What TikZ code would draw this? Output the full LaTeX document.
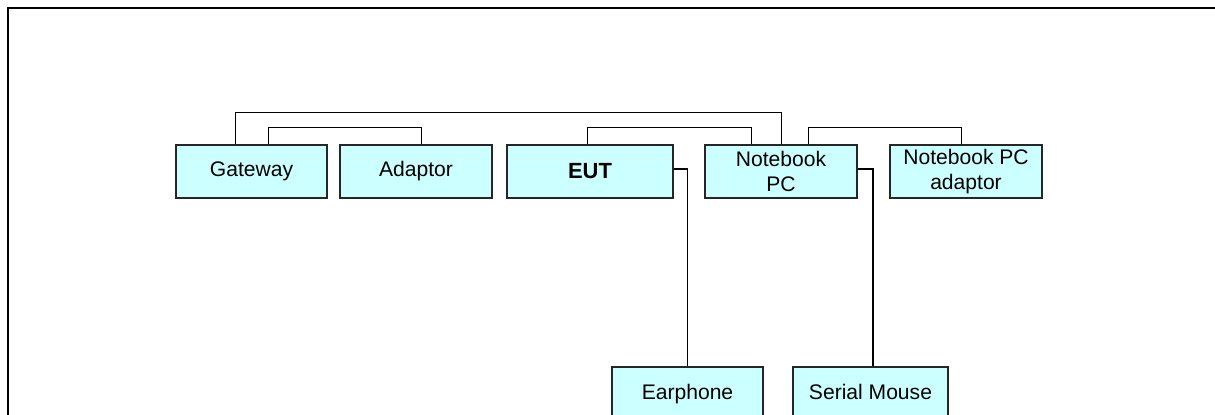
\documentclass[tikz,border=0pt]{standalone}
\usepackage{fontspec}
\setmainfont{Liberation Sans}
\usepackage{tikz}
\usetikzlibrary{positioning, calc}

\definecolor{boxcyan}{HTML}{CCFFFF}

\begin{document}
\begin{tikzpicture}[x=0.02cm, y=-0.02cm,
    unit/.style={draw=black!85, fill=boxcyan, line width=.7pt, shape=rectangle,
      minimum width=3.02cm, minimum height=1.06cm, align=center, inner sep=1pt,
      font=\fontsize{12}{14}\selectfont},
    lowunit/.style={unit, text height=1.6ex, text depth=.4ex},
    wire/.style={draw, line width=.9pt}]
  \clip (0,0) rectangle (1215,415);
  % page frame, cut at the right and bottom
  \draw[line width=1.3pt] (8,470) -- (8,8) -- (1260,8);

  % top row
  \node[unit] (gateway) at (251.5,171.5) {Gateway};
  \node[unit, minimum width=3.04cm] (adaptor) at (416,171.5) {Adaptor};
  \node[unit, minimum width=3.32cm, font=\fontsize{12.5}{14}\selectfont\bfseries] (eut) at (590,171.5) {EUT};
  \node[unit, minimum width=3.04cm] (nbpc) at (781,171.5) {Notebook\\PC};
  \node[unit, minimum width=3.04cm] (nbadapt) at (966,171.5) {Notebook PC\\adaptor};
  % bottom row
  \node[lowunit] (earphone) at (687.5,393.5) {Earphone};
  \node[lowunit, minimum width=3.1cm] (mouse) at (870.5,393.5) {Serial Mouse};

  % connectors
  \path[wire]
    ([xshift=1.2cm]gateway.north west) -- ++(0,0.64cm) -| ([xshift=1.54cm]nbpc.north west)
    ([xshift=1.86cm]gateway.north west) -- ++(0,0.34cm) -| ([xshift=1.64cm]adaptor.north west)
    ([xshift=1.62cm]eut.north west) -- ++(0,0.34cm) -| ([xshift=0.94cm]nbpc.north west)
    ([xshift=2.08cm]nbpc.north west) -- ++(0,0.34cm) -| ([xshift=1.44cm]nbadapt.north west)
    ([yshift=0.05cm]eut.east) -| (earphone.north)
    ([yshift=0.05cm]nbpc.east) -| ([xshift=0.05cm]mouse.north);
\end{tikzpicture}
\end{document}
